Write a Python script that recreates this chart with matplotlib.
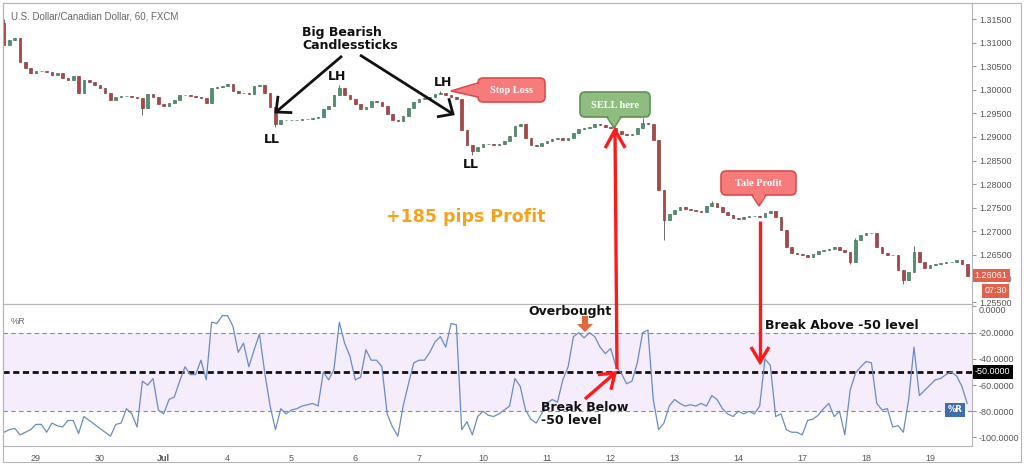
import numpy as np
import matplotlib.pyplot as plt
from matplotlib.patches import FancyBboxPatch, Polygon, Rectangle
from matplotlib.lines import Line2D
from matplotlib.transforms import Affine2D, blended_transform_factory

plt.rcParams['font.family'] = ['DejaVu Sans']

# ---------------- data (2-hour bars) ----------------
title = "U.S. Dollar/Canadian Dollar, 60, FXCM"
open0 = 1.3142
close = [
    1.3095, 1.3105, 1.3110, 1.3059, 1.3046, 1.3036, 1.3040, 1.3040, 1.3038, 1.3031,
    1.3036, 1.3025, 1.3021, 1.3029, 1.2993, 1.3021, 1.3016, 1.3010, 1.3004, 1.2993,
    1.2978, 1.2985, 1.2987, 1.2987, 1.2985, 1.2983, 1.2961, 1.2991, 1.2985, 1.2970,
    1.2966, 1.2972, 1.2978, 1.2989, 1.2989, 1.2987, 1.2985, 1.2983, 1.2972, 1.3004,
    1.3006, 1.3008, 1.3012, 1.2997, 1.2993, 1.2993, 1.2991, 1.3008, 1.3010, 1.2993,
    1.2963, 1.2927, 1.2936, 1.2936, 1.2936, 1.2936, 1.2938, 1.2938, 1.2940, 1.2942,
    1.2959, 1.2966, 1.2989, 1.3004, 1.2989, 1.2980, 1.2970, 1.2959, 1.2963, 1.2976,
    1.2974, 1.2966, 1.2949, 1.2936, 1.2934, 1.2944, 1.2961, 1.2974, 1.2980, 1.2983,
    1.2985, 1.2991, 1.2993, 1.2989, 1.2985, 1.2980, 1.2915, 1.2883, 1.2870, 1.2879,
    1.2885, 1.2885, 1.2883, 1.2885, 1.2891, 1.2902, 1.2923, 1.2927, 1.2898, 1.2883,
    1.2881, 1.2887, 1.2891, 1.2896, 1.2898, 1.2893, 1.2898, 1.2908, 1.2917, 1.2919,
    1.2921, 1.2927, 1.2925, 1.2921, 1.2919, 1.2913, 1.2906, 1.2904, 1.2906, 1.2919,
    1.2930, 1.2927, 1.2893, 1.2787, 1.2724, 1.2737, 1.2745, 1.2751, 1.2747, 1.2745,
    1.2743, 1.2741, 1.2754, 1.2760, 1.2751, 1.2741, 1.2734, 1.2728, 1.2726, 1.2730,
    1.2732, 1.2732, 1.2730, 1.2739, 1.2743, 1.2730, 1.2703, 1.2667, 1.2654, 1.2652,
    1.2650, 1.2646, 1.2652, 1.2658, 1.2660, 1.2662, 1.2667, 1.2660, 1.2656, 1.2635,
    1.2681, 1.2692, 1.2696, 1.2696, 1.2667, 1.2654, 1.2650, 1.2650, 1.2618, 1.2597,
    1.2614, 1.2656, 1.2635, 1.2622, 1.2628, 1.2631, 1.2633, 1.2635, 1.2635, 1.2639,
    1.2631, 1.26061,
]
wick_high = {0: 1.3150, 63: 1.3010, 82: 1.2997, 120: 1.2940, 133: 1.2765,
             160: 1.2685, 171: 1.2668}
wick_low = {26: 1.2946, 51: 1.2922, 88: 1.2862, 124: 1.2681, 159: 1.2630,
            169: 1.2588}

pct_r = [
    -96, -94, -93, -98, -96, -94, -90, -90, -96, -89,
    -91, -92, -87, -87, -97, -84, -87, -90, -93, -96,
    -99, -90, -89, -78, -82, -92, -57, -60, -55, -79,
    -82, -71, -69, -57, -46, -52, -52, -41, -56, -12,
    -13, -7, -7, -15, -35, -28, -46, -33, -21, -51,
    -76, -94, -78, -82, -79, -78, -76, -75, -74, -76,
    -50, -56, -48, -12, -28, -38, -56, -54, -33, -41,
    -41, -46, -82, -92, -99, -76, -59, -43, -41, -41,
    -35, -27, -23, -31, -13, -14, -94, -88, -98, -84,
    -80, -83, -84, -82, -79, -76, -55, -61, -79, -86,
    -89, -82, -74, -71, -73, -56, -46, -23, -20, -24,
    -20, -23, -31, -36, -32, -46, -51, -59, -57, -43,
    -20, -18, -71, -94, -89, -76, -71, -74, -76, -75,
    -76, -74, -76, -68, -71, -78, -82, -84, -80, -82,
    -80, -82, -76, -40, -45, -84, -82, -94, -96, -96,
    -98, -87, -86, -83, -78, -74, -84, -80, -98, -64,
    -51, -46, -42, -43, -74, -79, -78, -92, -91, -96,
    -71, -31, -68, -64, -60, -56, -55, -52, -50, -53,
    -61, -74,
]

day_labels = ["29", "30", "Jul", "4", "5", "6", "7", "10", "11", "12",
              "13", "14", "17", "18", "19"]
day_start_bar = [6, 18, 30, 42, 54, 66, 78, 90, 102, 114, 126, 138, 150, 162, 174]
price_ticks = [1.255, 1.260, 1.265, 1.270, 1.275, 1.280, 1.285, 1.290,
               1.295, 1.300, 1.305, 1.310, 1.315]
r_ticks = [0, -20, -40, -60, -80, -100]
clock = "07:30"

# ---------------- figure ----------------
W, H = 1024, 465
fig = plt.figure(figsize=(W / 100, H / 100), dpi=100)
fig.patch.set_facecolor('white')
# pixel coordinates, y pointing down
T = Affine2D().scale(1 / W, -1 / H).translate(0, 1) + fig.transFigure

L, R = 3 / W, 972 / W
ax1 = fig.add_axes([L, 1 - 304 / H, R - L, 301 / H])
ax2 = fig.add_axes([L, 1 - 446 / H, R - L, 142 / H], sharex=ax1)

frame_c = '#b5b5b5'
for ax in (ax1, ax2):
    for s in ax.spines.values():
        s.set_color(frame_c)
        s.set_linewidth(0.8)
    ax.yaxis.tick_right()
    ax.tick_params(axis='y', direction='out', length=3, color='#999999',
                   labelsize=6.5, labelcolor='#555555', pad=2)

fig.add_artist(Rectangle((3, 3), 1018, 459, transform=T, fill=False,
                         ec=frame_c, lw=0.8))

# ---------------- candles ----------------
close = np.array(close)
idx = np.arange(len(close))
opens = np.r_[open0, close[:-1]]
highs = np.maximum(opens, close)
lows = np.minimum(opens, close)
for k, v in wick_high.items():
    highs[k] = v
for k, v in wick_low.items():
    lows[k] = v

ax1.vlines(idx, lows, highs, color='#555555', lw=0.6, zorder=2)
up = close >= opens
ax1.bar(idx[up], (close - opens)[up], bottom=opens[up], width=0.5,
        color='#4f9270', edgecolor='#2f5f45', lw=0.4, zorder=3)
ax1.bar(idx[~up], (close - opens)[~up], bottom=opens[~up], width=0.5,
        color='#b04545', edgecolor='#6e2a2a', lw=0.4, zorder=3)

ax1.set_xlim(-0.2, 181.9)
ax1.set_ylim(1.2546, 1.3184)
ax1.set_yticks(price_ticks)
ax1.yaxis.set_major_formatter(plt.FormatStrFormatter('%.5f'))
ax1.tick_params(axis='x', bottom=False, labelbottom=False)
for lab in ax1.get_yticklabels():
    lab.set_family('Liberation Sans')

ax1.text(8 / 969, 0.955, title, transform=ax1.transAxes, fontsize=7,
         color='#666666', family='Liberation Sans', va='center')

# last price tag and bar countdown (they sit over the axis labels, as on the chart)
bt = blended_transform_factory(ax1.transAxes, ax1.transData)
ax1.annotate(f'{close[-1]:.5f}', xy=(1, close[-1]), xycoords=bt, xytext=(2, 0),
             textcoords='offset points', va='center', ha='left', fontsize=6.5,
             color='white', family='Liberation Sans', annotation_clip=False,
             zorder=10,
             bbox=dict(boxstyle='square,pad=0.25', fc='#e2614d', ec='none'))
ax1.annotate(clock, xy=(1, close[-1]), xycoords=bt, xytext=(9, -11),
             textcoords='offset points', va='center', ha='left', fontsize=6.5,
             color='white', family='Liberation Sans', annotation_clip=False,
             zorder=10,
             bbox=dict(boxstyle='square,pad=0.25', fc='#e2614d', ec='none'))

# ---------------- Williams %R ----------------
ax2.axhspan(-80, -20, color='#f5ecfc', lw=0, zorder=0)
ax2.axhline(-20, color='#8c8c8c', lw=0.8, ls=(0, (4, 3)), zorder=1)
ax2.axhline(-80, color='#8c8c8c', lw=0.8, ls=(0, (4, 3)), zorder=1)
ax2.axhline(-50, color='#111111', lw=2.0, ls=(0, (2.2, 1.3)), zorder=2)
ax2.plot(idx, pct_r, color='#6a8cc4', lw=0.9, zorder=3)
ax2.set_ylim(-106.5, 1.9)
ax2.set_yticks(r_ticks)
ax2.yaxis.set_major_formatter(plt.FormatStrFormatter('%.4f'))
for lab in ax2.get_yticklabels():
    lab.set_family('Liberation Sans')
ax2.get_yticklabels()[0].set_va('top')
ax2.set_xticks(day_start_bar)
ax2.set_xticklabels(day_labels)
ax2.tick_params(axis='x', length=0, labelsize=6.5, labelcolor='#555555', pad=6)
for lab in ax2.get_xticklabels():
    lab.set_family('Liberation Sans')
    if lab.get_text() == 'Jul':
        lab.set_fontweight('bold')

ax2.text(8 / 969, 0.88, '%R', transform=ax2.transAxes, fontsize=6.5,
         color='#666666', family='Liberation Sans', va='center')
bt2 = blended_transform_factory(ax2.transAxes, ax2.transData)
ax2.annotate('-50.0000', xy=(1, -50), xycoords=bt2, xytext=(2, 0),
             textcoords='offset points', va='center', ha='left', fontsize=6.5,
             color='white', family='Liberation Sans', annotation_clip=False,
             zorder=10,
             bbox=dict(boxstyle='square,pad=0.25', fc='black', ec='none'))
ax2.text(0.99, -79, '%R', transform=bt2, ha='right', va='center', fontsize=6,
         color='white', fontweight='bold',
         bbox=dict(boxstyle='square,pad=0.3', fc='#3f6ea8', ec='none'))


# ---------------- annotations (pixel layout) ----------------
def arrow(x0, y0, x1, y1, color, lw, hl, hw):
    fig.add_artist(Line2D([x0, x1], [y0, y1], transform=T, color=color, lw=lw,
                          solid_capstyle='butt'))
    d = np.array([x1 - x0, y1 - y0], dtype=float)
    d /= np.hypot(*d)
    n = np.array([-d[1], d[0]])
    tip = np.array([x1, y1], dtype=float)
    a = tip - d * hl + n * hw
    b = tip - d * hl - n * hw
    fig.add_artist(Line2D([a[0], tip[0], b[0]], [a[1], tip[1], b[1]],
                          transform=T, color=color, lw=lw,
                          solid_joinstyle='miter', solid_capstyle='butt'))


def callout(box, tip, base, inner, text, fc, ec):
    x0, y0, x1, y1 = box
    fig.add_artist(FancyBboxPatch((x0, y0), x1 - x0, y1 - y0,
                                  boxstyle='round,pad=0,rounding_size=5',
                                  transform=T, fc=fc, ec=ec, lw=1.2))
    # fill pushed slightly inside the box so the box edge under the pointer is hidden
    fig.add_artist(Polygon([inner[0], tip, inner[1]], closed=True, transform=T,
                           fc=fc, ec='none'))
    fig.add_artist(Line2D([base[0][0], tip[0], base[1][0]],
                          [base[0][1], tip[1], base[1][1]], transform=T,
                          color=ec, lw=1.2, solid_joinstyle='miter'))
    fig.text((x0 + x1) / 2, (y0 + y1) / 2 + 0.5, text, transform=T,
             ha='center', va='center', fontsize=7.5, color='white',
             fontweight='bold', family=['Liberation Serif', 'DejaVu Serif'])


red_fc, red_ec = '#f77b7b', '#dd4b4b'
callout((478, 78, 545, 102), (451, 91), ((478, 83), (478, 97)),
        ((481, 83), (481, 97)), 'Stop Loss', red_fc, red_ec)
callout((580, 92, 650, 117), (614, 128), ((607, 117), (621, 117)),
        ((607, 114), (621, 114)), 'SELL here', '#8fbc7f', '#5f9150')
callout((721, 171, 796, 195), (759, 206), ((752, 195), (766, 195)),
        ((752, 192), (766, 192)), 'Tale Profit', red_fc, red_ec)

bold = dict(transform=T, fontweight='bold', color='#111111', fontsize=9)
fig.text(302, 39, 'Big Bearish\nCandlessticks', ha='left', va='center',
         linespacing=0.95, **bold)
arrow(342, 56, 276, 112, '#111111', 2.0, 12, 11)
arrow(360, 55, 453, 114, '#111111', 2.0, 12, 11)
fig.text(272, 139, 'LL', ha='center', va='center', **bold)
fig.text(337, 77, 'LH', ha='center', va='center', **bold)
fig.text(443, 82, 'LH', ha='center', va='center', **bold)
fig.text(471, 164, 'LL', ha='center', va='center', **bold)

fig.text(466, 217, '+185 pips Profit', transform=T, ha='center', va='center',
         fontsize=12.5, fontweight='bold', color='#f5a31a')

fig.text(528, 311, 'Overbought', ha='left', va='center', **bold)
fig.add_artist(Polygon([(582, 316), (588, 316), (588, 324), (593, 324),
                        (585, 332), (577, 324), (582, 324)], closed=True,
                       transform=T, fc='#e4683c', ec='none'))
fig.text(541, 414, 'Break Below\n-50 level', ha='left', va='center',
         linespacing=0.95, **bold)
fig.text(765, 325, 'Break Above -50 level', ha='left', va='center', **bold)

red = '#ff1a1a'
arrow(617, 369, 615, 130, red, 2.4, 18, 10)
arrow(760, 221, 760, 362, red, 2.4, 15, 9)
arrow(585, 399, 615, 373, red, 2.4, 14, 10)

fig.savefig('out.png', dpi=100)
